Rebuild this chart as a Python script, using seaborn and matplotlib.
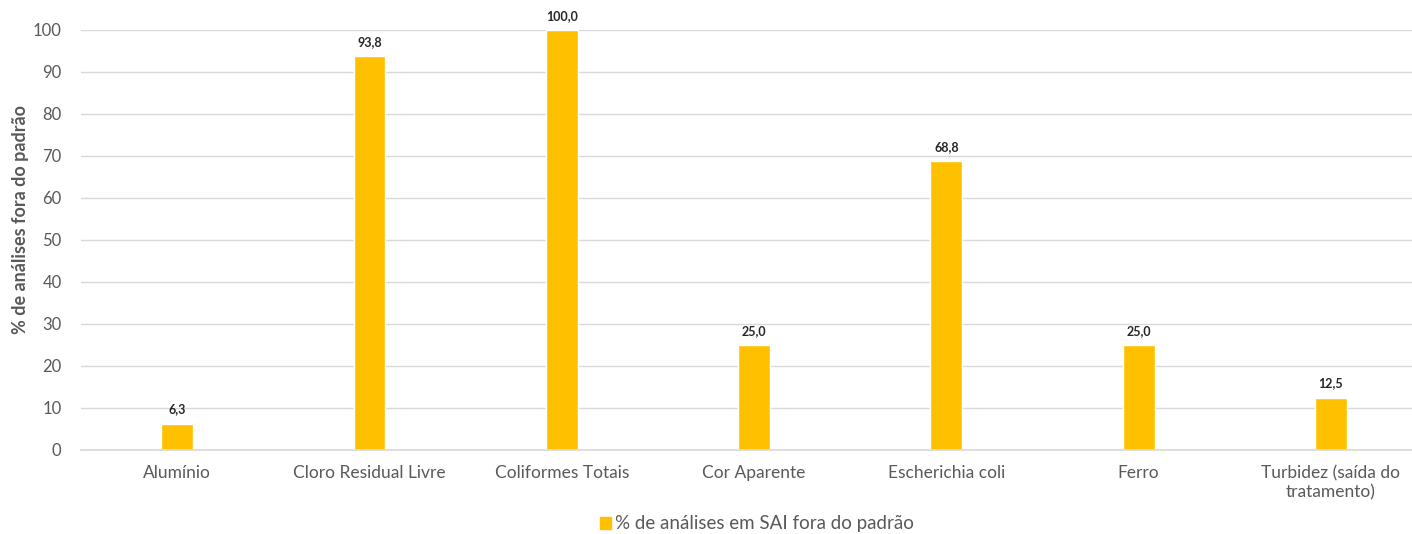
import matplotlib
matplotlib.use("Agg")
import matplotlib.pyplot as plt
import seaborn as sns
import pandas as pd

categories = ["Alumínio", "Cloro Residual Livre", "Coliformes Totais", "Cor Aparente",
              "Escherichia coli", "Ferro", "Turbidez (saída do\ntratamento)"]
values = [6.3, 93.8, 100.0, 25.0, 68.8, 25.0, 12.5]
series_name = "% de análises em SAI fora do padrão"

sns.set_theme(style="white")
plt.rcParams['font.family'] = ['Lato', 'DejaVu Sans']

df = pd.DataFrame({"cat": categories, "val": values, "serie": series_name})

W, H = 1412, 534
fig = plt.figure(figsize=(W / 100, H / 100), dpi=100)
ax = fig.add_axes([81 / W, 84 / H, (W - 81) / W, 420 / H])

sns.barplot(data=df, x="cat", y="val", hue="serie", palette=["#FFC000"],
            width=0.165, ax=ax, legend=False, saturation=1)

ax.set_ylim(0, 100)
ax.set_xlim(-0.5, (W - 81) / 192.3 - 0.5)
ax.set_yticks(range(0, 101, 10))
ax.yaxis.grid(True, color="#D9D9D9", linewidth=1)
ax.set_axisbelow(True)
for s in ax.spines.values():
    s.set_visible(False)
ax.spines['bottom'].set_visible(True)
ax.spines['bottom'].set_color("#D9D9D9")

ax.tick_params(axis='y', labelsize=12, labelcolor="#595959", length=0, pad=14)
ax.tick_params(axis='x', labelsize=12.5, labelcolor="#595959", length=0, pad=11)
ax.set_xlabel("")
ax.set_ylabel("% de análises fora do padrão", fontsize=13, fontweight="bold",
              color="#595959")
ax.yaxis.set_label_coords(-0.039, 0.548)

for i, v in enumerate(values):
    ax.text(i, v + 2.0, f"{v:.1f}".replace(".", ","), ha="center", va="bottom",
            fontsize=9, color="#262626", fontweight="bold", clip_on=False)

handle = plt.Rectangle((0, 0), 1, 1, color="#FFC000")
fig.legend([handle], [series_name], loc="center", bbox_to_anchor=(757 / W, 1 - 524 / H),
           frameon=False, fontsize=13.5, labelcolor="#595959", handlelength=0.6,
           handleheight=0.6, handletextpad=0.2)

fig.savefig("out.png", dpi=100)
